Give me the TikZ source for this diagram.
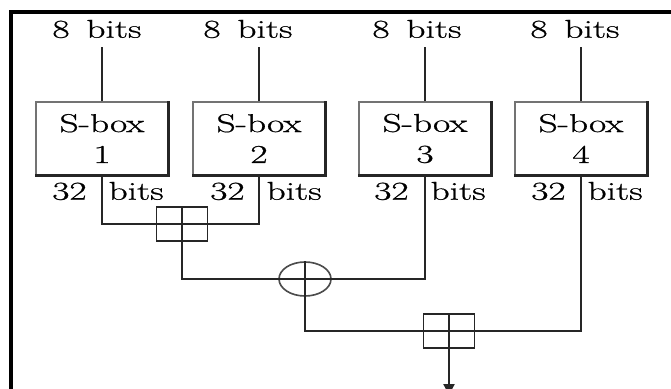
\documentclass[tikz,border=0pt]{standalone}
\usepackage{graphicx}
\usepackage{fontspec}
\usepackage{tikz}
\usetikzlibrary{shapes.geometric, arrows.meta}
\newfontfamily\labelfont[FakeBold=0.7]{Latin Modern Roman}
\newcommand{\wide}[1]{\scalebox{1.45}[1]{#1}}
\tikzset{
    sbox/.style={rectangle, draw=black!55, line width=0.9pt, minimum width=3.96cm, minimum height=2.19cm,
        inner sep=0pt, align=center, font=\labelfont\fontsize{22}{26.4}\selectfont},
    bitlabel/.style={inner xsep=0pt, inner ysep=0.27cm, font=\labelfont\fontsize{22}{26.4}\selectfont},
    conn/.style={draw=black!85, line width=1.4pt},
    addmod/.style={rectangle, draw=black!85, line width=1.6pt, minimum width=1.53cm, minimum height=1.02cm, inner sep=0pt},
    xorop/.style={ellipse, draw=black!70, line width=1.4pt, minimum width=1.56cm, minimum height=1.02cm, inner sep=0pt},
    frameline/.style={draw=black, line width=2.6pt}
}

\begin{document}
\begin{tikzpicture}[x=0.03cm, y=-0.03cm]
    \useasboundingbox (0,0) rectangle (671,388);
    % frame
    \draw[frameline] (671,12) -| (11,392);

    % s-boxes
    \foreach \i/\x in {1/102,2/259,3/425,4/581}
        \node[sbox] (b\i) at (\x,138.5) {\wide{S-box}\\\wide{\i}};
    \foreach \i in {1,...,4}
        \draw[black!85, line width=1.8pt] (b\i.north east) -- (b\i.south east) -- (b\i.south west);

    % inputs and outputs
    \foreach \i/\x in {1/97,2/248,3/417,4/575}
        \node[bitlabel] (in\i) at (\x,29) {\wide{8\hspace{0.45em}bits}};
    \foreach \i/\x in {1/108,2/266,3/430,4/587}
        \node[bitlabel] (out\i) at (\x,191) {\wide{32\hspace{0.59em}bits}};
    \foreach \i in {1,...,4}
        \draw[conn] (b\i.north) -- (b\i.north |- in\i.south);

    % combining
    \node[addmod] (add1) at (182,224) {};
    \node[xorop] (xor) at (305,279) {};
    \node[addmod] (add2) at (449,331) {};
    \coordinate (res) at (449,398);

    \draw[conn] (b1.south) |- (add1.center) -| (b2.south);
    \draw[conn] (add1.north) -- (add1.south) |- (xor.center) -| (b3.south);
    \draw[conn] (xor.north) -- (xor.south) |- (add2.center) -| (b4.south);
    \draw[conn, -{Latex[length=0.42cm, width=0.36cm]}] (add2.north) -- (res);
\end{tikzpicture}
\end{document}
